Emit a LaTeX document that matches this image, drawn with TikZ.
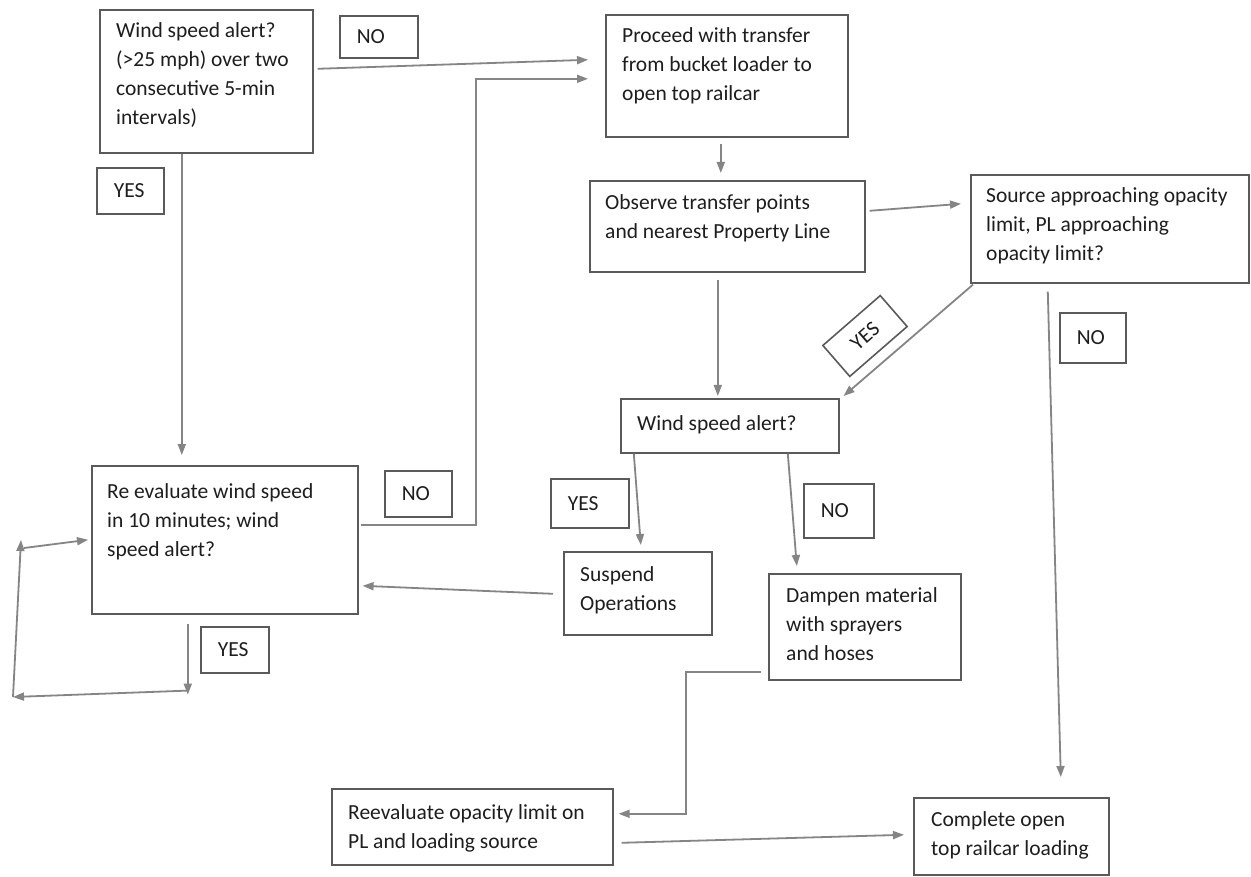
\documentclass[tikz,border=0pt]{standalone}
\usepackage{fontspec}
\setmainfont{Carlito}
\usetikzlibrary{arrows.meta,calc}
\definecolor{boxline}{HTML}{5A5A5A}
\definecolor{arrowgray}{HTML}{858585}
\definecolor{ink}{HTML}{1E1E1E}
\tikzset{
  box/.style={draw=boxline, line width=1.6pt, inner sep=0pt, anchor=north west},
  txt/.style={inner sep=0pt, anchor=north west, align=left, text=ink,
              font=\fontsize{21.5}{29}\selectfont},
  tag/.style={draw=boxline, line width=1.6pt, inner xsep=17pt, inner ysep=0pt,
              text=ink, align=left, font=\fontsize{21.5}{29}\selectfont},
  flow/.style={draw=arrowgray, line width=1.8pt, -{Triangle[length=11pt,width=8pt]}},
}
\begin{document}
\begin{tikzpicture}[x=1pt, y=-1pt]
\useasboundingbox[fill=white] (0,0) rectangle (1251,877);

% process boxes
\node[box, minimum width=213pt, minimum height=143pt] (A) at (99,9) {};
\node[txt] (At) at (116,17.5) {\strut Wind speed alert?\\(>25 mph) over two\\consecutive 5-min\\intervals)};

\node[box, minimum width=242pt, minimum height=122pt] (P) at (605,14) {};
\node[txt] (Pt) at (622,22.5) {\strut Proceed with transfer\\from bucket loader to\\open top railcar};

\node[box, minimum width=275pt, minimum height=91pt] (O) at (589,180) {};
\node[txt] (Ot) at (605,189.5) {\strut Observe transfer points\\and nearest Property Line};

\node[box, minimum width=278pt, minimum height=108pt] (S) at (970,174) {};
\node[txt] (St) at (986,182.5) {\strut Source approaching opacity\\limit, PL approaching\\opacity limit?};

\node[box, minimum width=218pt, minimum height=54pt] (M) at (620,398) {};
\node[txt] (Mt) at (637,410.5) {\strut Wind speed alert?};

\node[box, minimum width=266pt, minimum height=148pt] (R) at (91,465) {};
\node[txt] (Rt) at (107,477.5) {\strut Re evaluate wind speed\\in 10 minutes; wind\\speed alert?};

\node[box, minimum width=148pt, minimum height=83pt] (U) at (563,551) {};
\node[txt] (Ut) at (580,560.5) {\strut Suspend\\Operations};

\node[box, minimum width=192pt, minimum height=106pt] (D) at (768,573) {};
\node[txt] (Dt) at (786,581.5) {\strut Dampen material\\with sprayers\\and hoses};

\node[box, minimum width=281pt, minimum height=76pt] (Q) at (331,788) {};
\node[txt] (Qt) at (348,798.5) {\strut Reevaluate opacity limit on\\PL and loading source};

\node[box, minimum width=195pt, minimum height=77pt] (C) at (913,797) {};
\node[txt] (Ct) at (931,805.5) {\strut Complete open\\top railcar loading};

% decision labels
\node[tag, anchor=north west, minimum height=42pt, text width=44pt] (no1) at (339,15) {NO};
\node[tag, anchor=north west, minimum height=46pt, text width=33pt] (yes1) at (96,167) {YES};
\node[tag, anchor=north west, minimum height=46pt, text width=33pt] (no2) at (384,470) {NO};
\node[tag, anchor=north west, minimum height=46pt, text width=34pt] (yes2) at (200,626) {YES};
\node[tag, anchor=north west, minimum height=50pt, text width=32pt] (no3) at (1059,312) {NO};
\node[tag, anchor=north west, minimum height=49pt, text width=44pt] (yes3) at (550,478) {YES};
\node[tag, anchor=north west, minimum height=54pt, text width=36pt] (no4) at (803,483) {NO};
\node[tag, anchor=center, rotate=41, minimum height=41pt, text width=42pt, align=center] (yes4) at (865,336) {YES};

% free ends of the loop on the left
\coordinate (loopBL) at (13,697);
\coordinate (loopTL) at (21,540);

% connectors
\draw[flow] ([shift={(4,-12.5)}]A.east) -- ([shift={(-17,-16)}]P.west);
\draw[flow] ([shift={(2,-15)}]R.east) -- ++(115,0) |- ([shift={(-17,3)}]P.west);
\draw[flow] ([shift={(-24.5,0)}]A.south) -- ([shift={(-43,-10)}]R.north);
\draw[flow] ([shift={(-6,6)}]P.south) -- ([shift={(-6.5,-7)}]O.north);
\draw[flow] ([shift={(4,-15.5)}]O.east) -- ([shift={(-9,-25)}]S.west);
\draw[flow] ([shift={(-9.5,7)}]O.south) -- ([shift={(-12,-2)}]M.north);
\draw[flow] ([shift={(3,1)}]S.south west) -- ([shift={(4,-2)}]M.north east);
\draw[flow] ([shift={(-62,8)}]S.south) -- ([shift={(49.5,-20)}]C.north);
\draw[flow] ([shift={(-96,0)}]M.south) -- ([shift={(3,-6)}]U.north);
\draw[flow] ([shift={(58,0)}]M.south) -- ([shift={(-68,-7)}]D.north);
\draw[flow] ([shift={(-10,0.5)}]U.west) -- ([shift={(4,46)}]R.east);
\draw[flow] ([shift={(-7,-9)}]D.south west) -- ++(-75,0) |- ([shift={(5,-13)}]Q.east);
\draw[flow] ([shift={(8,16)}]Q.east) -- ([shift={(-9,-1.5)}]C.west);
\draw[flow] ([shift={(-37,9)}]R.south) -- ([shift={(-37,80)}]R.south);
\draw[flow] ([shift={(-37,76)}]R.south) -- (loopBL);
\draw[flow] (loopBL) -- (loopTL);
\draw[flow] ([shift={(3,8)}]loopTL) -- ([shift={(-3,0)}]R.west);
\end{tikzpicture}
\end{document}
